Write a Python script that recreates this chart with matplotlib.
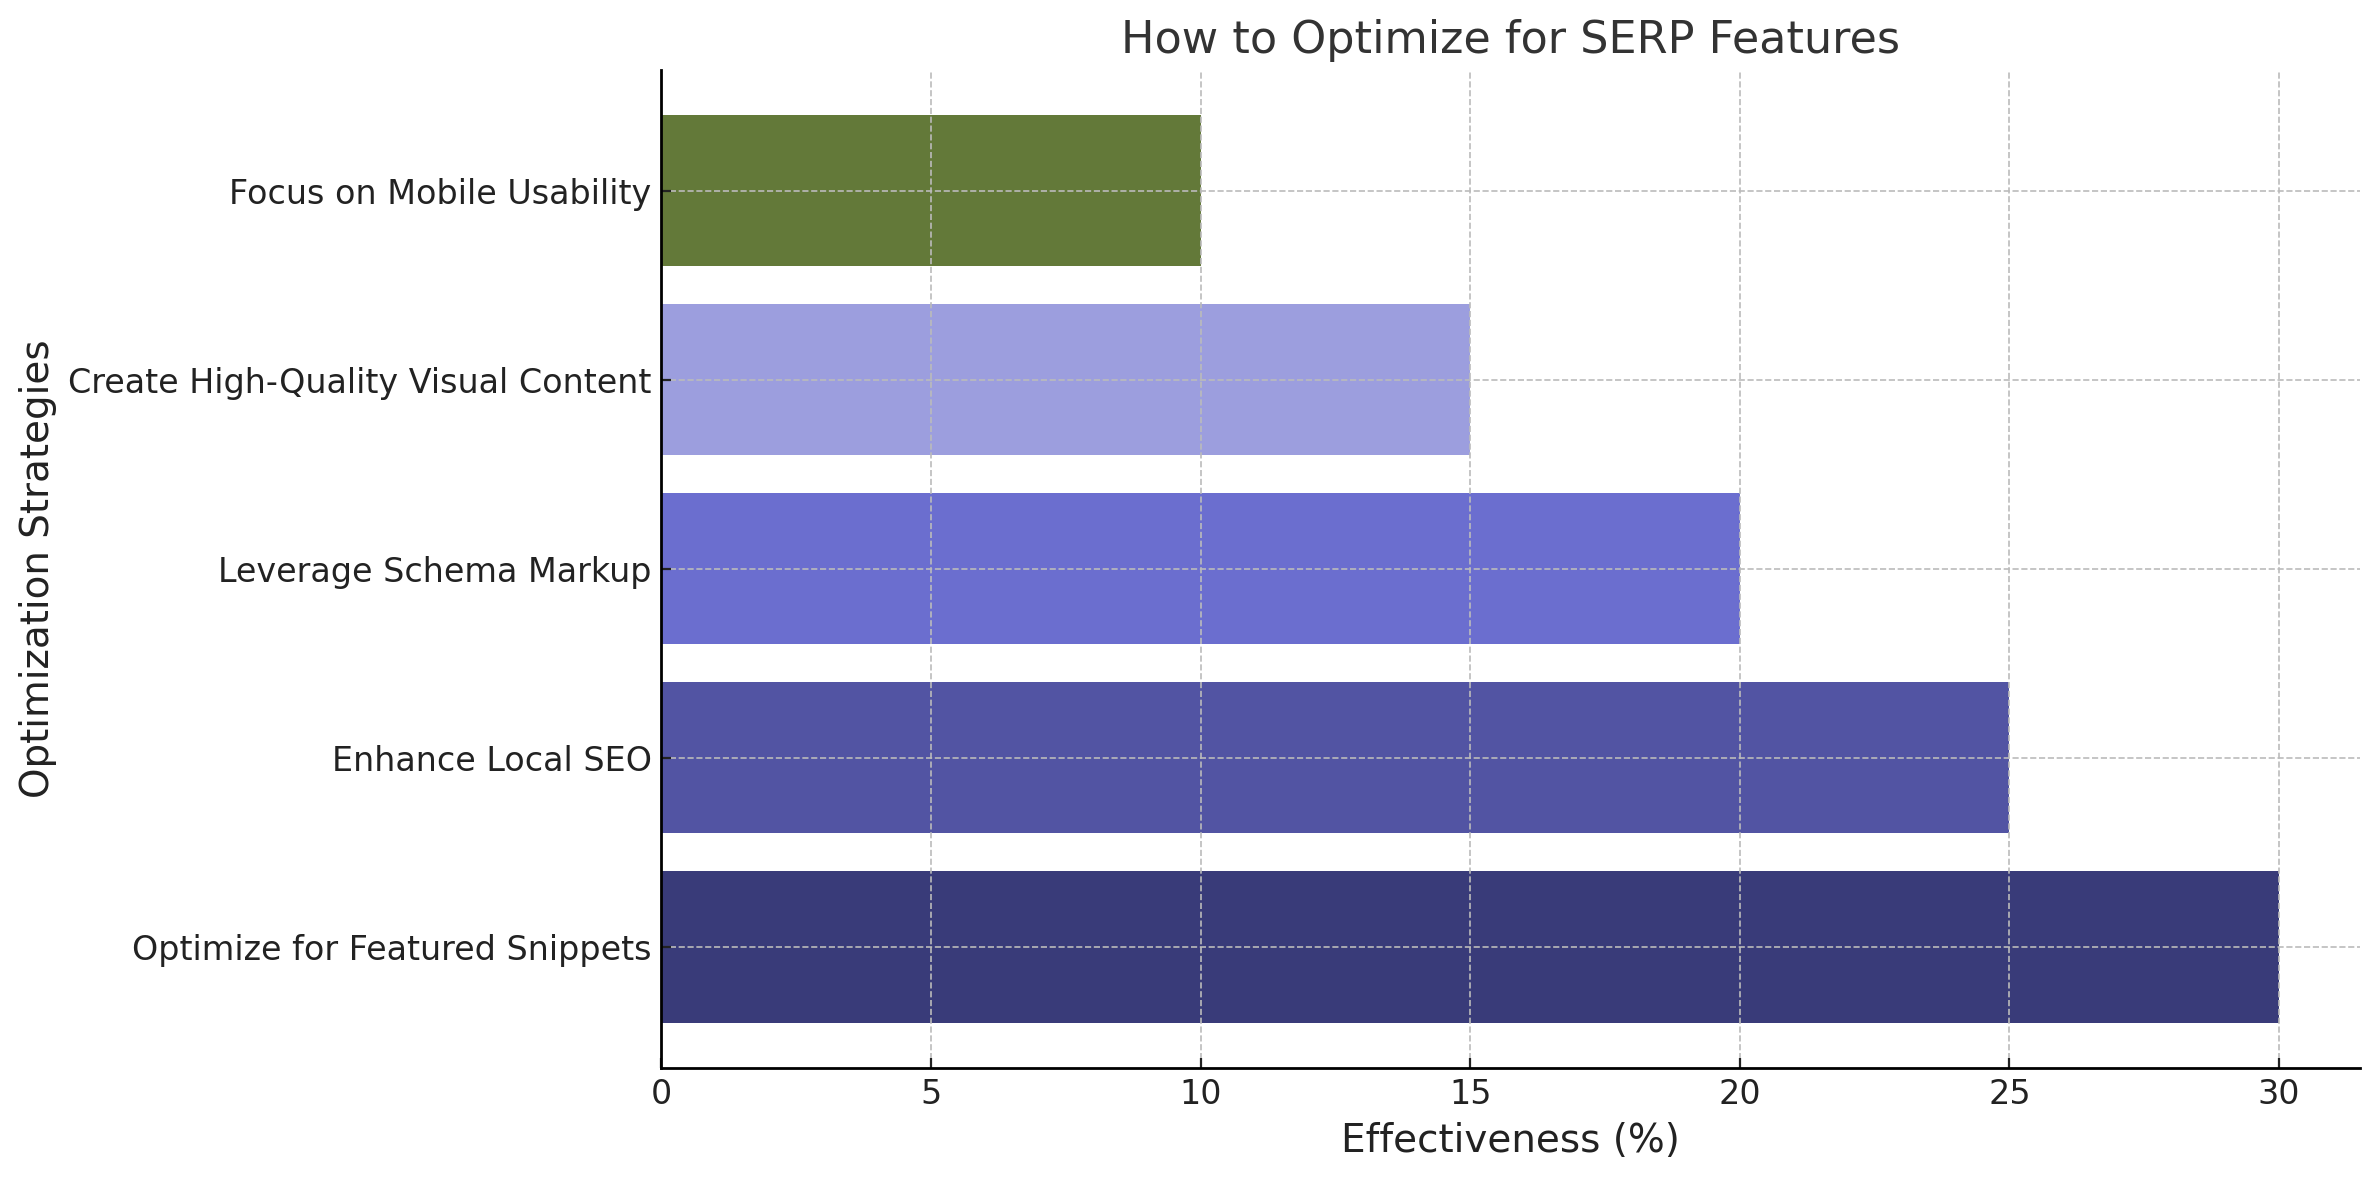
import matplotlib
matplotlib.use("Agg")
import matplotlib.pyplot as plt

strategies = ["Optimize for Featured Snippets", "Enhance Local SEO", "Leverage Schema Markup",
              "Create High-Quality Visual Content", "Focus on Mobile Usability"]
effectiveness = [30, 25, 20, 15, 10]
colors = ["#393b79", "#5254a3", "#6b6ecf", "#9c9ede", "#637939"]
xticks = [0, 5, 10, 15, 20, 25, 30]

fig = plt.figure(figsize=(2379/200, 1180/200), dpi=200)
ax = fig.add_axes([0.278, 0.095, 0.714, 0.846])
ax.barh(strategies, effectiveness, color=colors, height=0.8, zorder=1)
ax.set_xticks(xticks)
ax.set_axisbelow(False)
ax.grid(True, linestyle="--", color="#bbbbbb", linewidth=0.6, zorder=3)
ax.spines["top"].set_visible(False)
ax.spines["right"].set_visible(False)
for s in ("left", "bottom"):
    ax.spines[s].set_linewidth(1.0)
    ax.spines[s].set_zorder(5)
ax.tick_params(direction="in", labelsize=12, colors="#222222")
ax.set_xlabel("Effectiveness (%)", fontsize=14, color="#222222")
ax.set_ylabel("Optimization Strategies", fontsize=14, color="#222222")
ax.set_title("How to Optimize for SERP Features", fontsize=16, color="#333333")
fig.savefig("out.png", dpi=200)
